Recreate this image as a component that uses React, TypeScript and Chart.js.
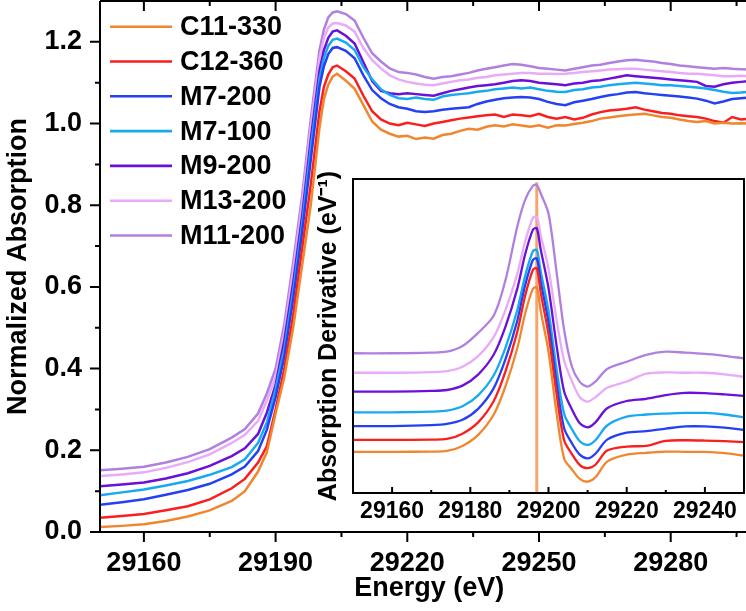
import React, { useEffect, useRef } from 'react';
import { Chart, registerables } from 'chart.js';

Chart.register(...registerables);

const FONT = "'Liberation Sans', Arial, Helvetica, sans-serif";

const seriesNames = ['C11-330', 'C12-360', 'M7-200', 'M7-100', 'M9-200', 'M13-200', 'M11-200'];
const seriesColors = ['#F0862E', '#FA1E1E', '#2440F5', '#17A9F2', '#6B10D9', '#E9AAF7', '#B080E0'];

// ---- main chart: normalized absorption ----
const energy = [
  29150, 29155, 29160, 29165, 29170, 29175, 29180, 29183, 29186, 29188,
  29190, 29192, 29194, 29196, 29198, 29200, 29201, 29202, 29203, 29204,
  29206, 29208, 29210, 29212, 29214, 29216, 29218, 29220, 29222, 29224,
  29226, 29228, 29230, 29232, 29234, 29236, 29238, 29240, 29242, 29244,
  29246, 29248, 29250, 29252, 29254, 29256, 29258, 29260, 29262, 29264,
  29266, 29268, 29270, 29272, 29274, 29276, 29278, 29280, 29282, 29284,
  29286, 29288, 29290, 29292, 29294, 29296, 29298,
];

const absC11 = [
  0.012, 0.015, 0.019, 0.027, 0.038, 0.053, 0.076, 0.100, 0.148, 0.195,
  0.29, 0.38, 0.50, 0.65, 0.80, 0.99, 1.06, 1.095, 1.115, 1.122,
  1.105, 1.085, 1.045, 1.005, 0.985, 0.975, 0.968, 0.970, 0.962, 0.966,
  0.963, 0.972, 0.975, 0.982, 0.987, 0.985, 0.992, 0.996, 0.993, 0.998,
  0.995, 0.992, 0.996, 0.990, 0.996, 0.995, 0.999, 1.002, 1.006, 1.012,
  1.015, 1.018, 1.020, 1.022, 1.024, 1.020, 1.016, 1.014, 1.010, 1.006,
  1.004, 1.006, 1.000, 1.002, 1.000, 1.001, 1.000,
];
const absC12 = [
  0.035, 0.039, 0.044, 0.053, 0.063, 0.080, 0.107, 0.130, 0.170, 0.210,
  0.30, 0.40, 0.53, 0.69, 0.85, 1.03, 1.09, 1.12, 1.138, 1.142,
  1.128, 1.110, 1.068, 1.030, 1.010, 1.000, 0.996, 1.002, 0.998, 0.994,
  1.000, 1.004, 1.008, 1.012, 1.015, 1.018, 1.020, 1.022, 1.016, 1.022,
  1.020, 1.018, 1.024, 1.016, 1.012, 1.016, 1.010, 1.014, 1.022, 1.028,
  1.032, 1.034, 1.036, 1.040, 1.034, 1.030, 1.026, 1.024, 1.020, 1.018,
  1.016, 1.012, 1.006, 1.002, 1.016, 1.010, 1.012,
];
const absM7_200 = [
  0.067, 0.073, 0.080, 0.091, 0.103, 0.118, 0.141, 0.160, 0.198, 0.250,
  0.33, 0.43, 0.57, 0.73, 0.91, 1.09, 1.14, 1.17, 1.185, 1.187,
  1.178, 1.160, 1.118, 1.082, 1.062, 1.048, 1.040, 1.036, 1.030, 1.028,
  1.030, 1.034, 1.036, 1.038, 1.040, 1.048, 1.054, 1.058, 1.062, 1.064,
  1.065, 1.064, 1.060, 1.053, 1.048, 1.045, 1.052, 1.056, 1.060, 1.065,
  1.069, 1.072, 1.076, 1.077, 1.074, 1.072, 1.070, 1.068, 1.066, 1.064,
  1.061, 1.056, 1.049, 1.054, 1.060, 1.062, 1.064,
];
const absM7_100 = [
  0.090, 0.097, 0.104, 0.114, 0.125, 0.140, 0.159, 0.178, 0.218, 0.268,
  0.35, 0.45, 0.59, 0.75, 0.94, 1.11, 1.16, 1.19, 1.205, 1.208,
  1.198, 1.180, 1.138, 1.108, 1.084, 1.070, 1.062, 1.060, 1.064, 1.060,
  1.058, 1.066, 1.070, 1.072, 1.074, 1.078, 1.080, 1.084, 1.086, 1.088,
  1.086, 1.088, 1.084, 1.080, 1.078, 1.077, 1.082, 1.084, 1.088, 1.090,
  1.094, 1.096, 1.098, 1.100, 1.098, 1.096, 1.094, 1.094, 1.092, 1.090,
  1.088, 1.086, 1.082, 1.078, 1.075, 1.076, 1.078,
];
const absM9_200 = [
  0.112, 0.116, 0.121, 0.131, 0.144, 0.162, 0.186, 0.205, 0.240, 0.292,
  0.36, 0.47, 0.61, 0.77, 0.96, 1.13, 1.18, 1.21, 1.225, 1.228,
  1.215, 1.196, 1.150, 1.104, 1.080, 1.074, 1.072, 1.074, 1.072, 1.070,
  1.068, 1.074, 1.080, 1.084, 1.088, 1.092, 1.094, 1.096, 1.100, 1.104,
  1.106, 1.104, 1.100, 1.098, 1.096, 1.094, 1.098, 1.100, 1.104, 1.106,
  1.110, 1.114, 1.118, 1.116, 1.114, 1.112, 1.110, 1.108, 1.106, 1.104,
  1.102, 1.092, 1.090, 1.096, 1.100, 1.102, 1.104,
];
const absM13_200 = [
  0.137, 0.141, 0.146, 0.157, 0.171, 0.190, 0.218, 0.238, 0.272, 0.322,
  0.38, 0.49, 0.64, 0.80, 0.99, 1.16, 1.21, 1.235, 1.245, 1.246,
  1.240, 1.225, 1.185, 1.155, 1.135, 1.118, 1.108, 1.102, 1.098, 1.095,
  1.094, 1.098, 1.102, 1.106, 1.108, 1.112, 1.114, 1.118, 1.120, 1.122,
  1.124, 1.124, 1.122, 1.122, 1.121, 1.122, 1.124, 1.126, 1.128, 1.130,
  1.132, 1.133, 1.134, 1.134, 1.132, 1.130, 1.128, 1.126, 1.124, 1.122,
  1.122, 1.120, 1.118, 1.116, 1.116, 1.117, 1.116,
];
const absM11_200 = [
  0.151, 0.155, 0.160, 0.170, 0.184, 0.203, 0.231, 0.252, 0.290, 0.339,
  0.40, 0.51, 0.66, 0.82, 1.01, 1.18, 1.23, 1.26, 1.272, 1.275,
  1.268, 1.252, 1.210, 1.172, 1.152, 1.135, 1.126, 1.124, 1.120, 1.114,
  1.110, 1.114, 1.116, 1.120, 1.124, 1.130, 1.134, 1.138, 1.142, 1.146,
  1.144, 1.140, 1.136, 1.134, 1.132, 1.130, 1.134, 1.138, 1.142, 1.144,
  1.148, 1.152, 1.155, 1.156, 1.154, 1.152, 1.148, 1.146, 1.142, 1.140,
  1.138, 1.136, 1.134, 1.136, 1.134, 1.133, 1.132,
];

const xMajorTicks = [29160, 29190, 29220, 29250, 29280];
const xMinorTicks = [29175, 29205, 29235, 29265, 29295];
const yMajorTicks = [0, 0.2, 0.4, 0.6, 0.8, 1.0, 1.2];
const yMinorTicks = [0.1, 0.3, 0.5, 0.7, 0.9, 1.1];

// ---- inset: absorption derivative (offset, arbitrary units) ----
const dEnergy = [
  29150, 29160, 29170, 29174, 29178, 29182, 29186, 29189, 29192, 29194,
  29196, 29197, 29198, 29200, 29202, 29204, 29206, 29208, 29210, 29212,
  29215, 29220, 29225, 29230, 29235, 29240, 29245, 29250,
];
const derC11 = [0.131, 0.131, 0.132, 0.134, 0.150, 0.185, 0.250, 0.340, 0.460, 0.570, 0.650, 0.655, 0.580, 0.450, 0.260, 0.110, 0.075, 0.045, 0.036, 0.050, 0.100, 0.122, 0.128, 0.132, 0.131, 0.131, 0.127, 0.119];
const derC12 = [0.169, 0.169, 0.170, 0.172, 0.189, 0.225, 0.293, 0.387, 0.513, 0.627, 0.710, 0.716, 0.639, 0.505, 0.321, 0.168, 0.124, 0.089, 0.079, 0.090, 0.135, 0.148, 0.150, 0.166, 0.168, 0.167, 0.165, 0.162];
const derM7_200 = [0.213, 0.213, 0.216, 0.220, 0.233, 0.268, 0.334, 0.426, 0.548, 0.660, 0.742, 0.747, 0.674, 0.543, 0.358, 0.206, 0.158, 0.122, 0.110, 0.125, 0.170, 0.192, 0.197, 0.205, 0.212, 0.212, 0.208, 0.201];
const derM7_100 = [0.257, 0.257, 0.259, 0.262, 0.276, 0.311, 0.375, 0.463, 0.582, 0.690, 0.770, 0.774, 0.706, 0.581, 0.401, 0.252, 0.203, 0.165, 0.153, 0.168, 0.215, 0.243, 0.250, 0.253, 0.255, 0.255, 0.250, 0.241];
const derM9_200 = [0.323, 0.323, 0.325, 0.328, 0.342, 0.377, 0.441, 0.530, 0.650, 0.759, 0.838, 0.843, 0.776, 0.653, 0.475, 0.323, 0.266, 0.222, 0.209, 0.225, 0.270, 0.293, 0.300, 0.312, 0.319, 0.318, 0.314, 0.309];
const derM13_200 = [0.383, 0.383, 0.385, 0.388, 0.402, 0.436, 0.497, 0.583, 0.697, 0.800, 0.876, 0.880, 0.821, 0.715, 0.556, 0.421, 0.356, 0.305, 0.291, 0.305, 0.335, 0.355, 0.380, 0.384, 0.383, 0.383, 0.378, 0.370];
const derM11_200 = [0.445, 0.445, 0.447, 0.450, 0.468, 0.510, 0.565, 0.678, 0.848, 0.933, 0.978, 0.981, 0.954, 0.890, 0.710, 0.519, 0.402, 0.354, 0.339, 0.355, 0.395, 0.418, 0.440, 0.450, 0.447, 0.443, 0.437, 0.429];

const edgeEnergy = 29197;
const edgeLineY = [0, 0.99];
const edgeLineColor = '#F5A66E';

const insetMajorTicks = [29160, 29180, 29200, 29220, 29240];
const insetMinorTicks = [29170, 29190, 29210, 29230];

const absSeries = [absC11, absC12, absM7_200, absM7_100, absM9_200, absM13_200, absM11_200];
const derSeries = [derC11, derC12, derM7_200, derM7_100, derM9_200, derM13_200, derM11_200];

const boldFont = (size: number) => ({ family: FONT, size, weight: 'bold' as const });

const mainFramePlugin = {
  id: 'mainFrame',
  afterDraw(chart: any) {
    const { ctx, chartArea: ca, scales } = chart;
    const x = scales.x;
    const y = scales.y;
    ctx.save();
    ctx.strokeStyle = '#000';
    ctx.lineWidth = 2;
    ctx.lineCap = 'butt';
    ctx.beginPath();
    ctx.moveTo(ca.left, ca.top);
    ctx.lineTo(ca.left, ca.bottom);
    ctx.lineTo(ca.right, ca.bottom);
    ctx.moveTo(ca.left, ca.top);
    ctx.lineTo(ca.right, ca.top);
    ctx.stroke();
    ctx.beginPath();
    yMajorTicks.forEach((v) => {
      const py = y.getPixelForValue(v);
      ctx.moveTo(ca.left - 10, py);
      ctx.lineTo(ca.left, py);
    });
    yMinorTicks.forEach((v) => {
      const py = y.getPixelForValue(v);
      ctx.moveTo(ca.left - 5, py);
      ctx.lineTo(ca.left, py);
    });
    xMajorTicks.forEach((v) => {
      const px = x.getPixelForValue(v);
      ctx.moveTo(px, ca.bottom);
      ctx.lineTo(px, ca.bottom + 10);
      ctx.moveTo(px, ca.top);
      ctx.lineTo(px, ca.top + 10);
    });
    xMinorTicks.forEach((v) => {
      const px = x.getPixelForValue(v);
      ctx.moveTo(px, ca.bottom);
      ctx.lineTo(px, ca.bottom + 5);
      ctx.moveTo(px, ca.top);
      ctx.lineTo(px, ca.top + 5);
    });
    ctx.stroke();

    // legend
    ctx.font = `bold 27px ${FONT}`;
    ctx.textBaseline = 'middle';
    ctx.textAlign = 'left';
    chart.data.datasets.forEach((ds: any, i: number) => {
      const ly = ca.top + 25.7 + i * 34.8;
      ctx.strokeStyle = ds.borderColor;
      ctx.lineWidth = 2.6;
      ctx.beginPath();
      ctx.moveTo(ca.left + 10, ly);
      ctx.lineTo(ca.left + 72, ly);
      ctx.stroke();
      ctx.fillStyle = '#000';
      ctx.fillText(ds.label, ca.left + 80, ly + 1);
    });
    ctx.restore();
  },
};

const insetFramePlugin = {
  id: 'insetFrame',
  afterDraw(chart: any) {
    const { ctx, chartArea: ca, scales } = chart;
    const x = scales.x;
    ctx.save();
    ctx.strokeStyle = '#000';
    ctx.lineWidth = 2;
    ctx.strokeRect(ca.left, ca.top, ca.right - ca.left, ca.bottom - ca.top);
    ctx.beginPath();
    insetMajorTicks.forEach((v) => {
      const px = x.getPixelForValue(v);
      ctx.moveTo(px, ca.bottom);
      ctx.lineTo(px, ca.bottom - 6);
    });
    insetMinorTicks.forEach((v) => {
      const px = x.getPixelForValue(v);
      ctx.moveTo(px, ca.bottom);
      ctx.lineTo(px, ca.bottom - 3);
    });
    ctx.stroke();
    ctx.restore();
  },
};

export default function App() {
  const mainRef = useRef<HTMLCanvasElement>(null);
  const insetRef = useRef<HTMLCanvasElement>(null);

  useEffect(() => {
    const mainDatasets = seriesNames.map((name, i) => ({
      label: name,
      data: energy.map((e, j) => ({ x: e, y: absSeries[i][j] })),
      borderColor: seriesColors[i],
      backgroundColor: seriesColors[i],
      borderWidth: 2.5,
      pointRadius: 0,
      fill: false,
      tension: 0,
    }));

    const main = new Chart(mainRef.current as HTMLCanvasElement, {
      type: 'line',
      data: { datasets: mainDatasets },
      options: {
        responsive: false,
        animation: false,
        devicePixelRatio: 1,
        layout: { padding: { top: 1, right: 1.5, left: 0, bottom: 0 } },
        plugins: { legend: { display: false }, tooltip: { enabled: false } },
        scales: {
          x: {
            type: 'linear',
            min: 29150,
            max: 29300,
            grid: { display: false, drawTicks: false },
            border: { display: false },
            afterBuildTicks: (s: any) => { s.ticks = xMajorTicks.map((v) => ({ value: v })); },
            afterFit: (s: any) => { s.height = 79; s.paddingLeft = 0; s.paddingRight = 0; },
            ticks: {
              font: boldFont(27), color: '#000', padding: 15, maxRotation: 0, autoSkip: false,
              callback: (v: any) => String(v),
            },
            title: { display: true, text: 'Energy (eV)', font: boldFont(27), color: '#000', padding: { top: 0, bottom: 6 } },
          },
          y: {
            type: 'linear',
            min: 0,
            max: 1.3,
            grid: { display: false, drawTicks: false },
            border: { display: false },
            afterBuildTicks: (s: any) => { s.ticks = yMajorTicks.map((v) => ({ value: v })); },
            afterFit: (s: any) => { s.width = 100; s.paddingTop = 0; s.paddingBottom = 0; },
            ticks: {
              font: boldFont(27), color: '#000', padding: 18,
              callback: (v: any) => Number(v).toFixed(1),
            },
            title: { display: true, text: 'Normalized Absorption', font: boldFont(27), color: '#000', padding: { top: 2, bottom: 0 } },
          },
        },
      } as any,
      plugins: [mainFramePlugin],
    } as any);

    const insetDatasets: any[] = seriesNames.map((name, i) => ({
      label: name,
      data: dEnergy.map((e, j) => ({ x: e, y: derSeries[i][j] })),
      borderColor: seriesColors[i],
      backgroundColor: seriesColors[i],
      borderWidth: 2.3,
      pointRadius: 0,
      fill: false,
      tension: 0.3,
    }));
    insetDatasets.push({
      label: 'edge',
      data: edgeLineY.map((v) => ({ x: edgeEnergy, y: v })),
      borderColor: edgeLineColor,
      borderWidth: 3,
      pointRadius: 0,
      fill: false,
    });

    const inset = new Chart(insetRef.current as HTMLCanvasElement, {
      type: 'line',
      data: { datasets: insetDatasets },
      options: {
        responsive: false,
        animation: false,
        devicePixelRatio: 1,
        layout: { padding: { top: 9, right: 2, left: 0, bottom: 0 } },
        plugins: { legend: { display: false }, tooltip: { enabled: false } },
        scales: {
          x: {
            type: 'linear',
            min: 29150,
            max: 29250,
            grid: { display: false, drawTicks: false },
            border: { display: false },
            afterBuildTicks: (s: any) => { s.ticks = insetMajorTicks.map((v) => ({ value: v })); },
            afterFit: (s: any) => { s.height = 37; s.paddingLeft = 0; s.paddingRight = 0; },
            ticks: {
              font: boldFont(23), color: '#000', padding: 5, maxRotation: 0, autoSkip: false,
              callback: (v: any) => String(v),
            },
          },
          y: {
            type: 'linear',
            min: 0,
            max: 1,
            grid: { display: false, drawTicks: false },
            border: { display: false },
            afterFit: (s: any) => { s.width = 53; s.paddingTop = 0; s.paddingBottom = 0; },
            ticks: { display: false },
            title: { display: true, text: 'Absorption Derivative (eV\u207B\u00B9)', font: boldFont(25), color: '#000', padding: { top: 14, bottom: 0 } },
          },
        },
      } as any,
      plugins: [insetFramePlugin],
    } as any);

    return () => {
      main.destroy();
      inset.destroy();
    };
  }, []);

  return (
    <div style={{ position: 'fixed', left: 0, top: 0, width: 746, height: 611, overflow: 'hidden', background: '#fff' }}>
      <canvas ref={mainRef} width={760} height={611} style={{ position: 'absolute', left: 0, top: 0, width: 760, height: 611 }} />
      <canvas ref={insetRef} width={446} height={360} style={{ position: 'absolute', left: 300, top: 170, width: 446, height: 360 }} />
    </div>
  );
}
